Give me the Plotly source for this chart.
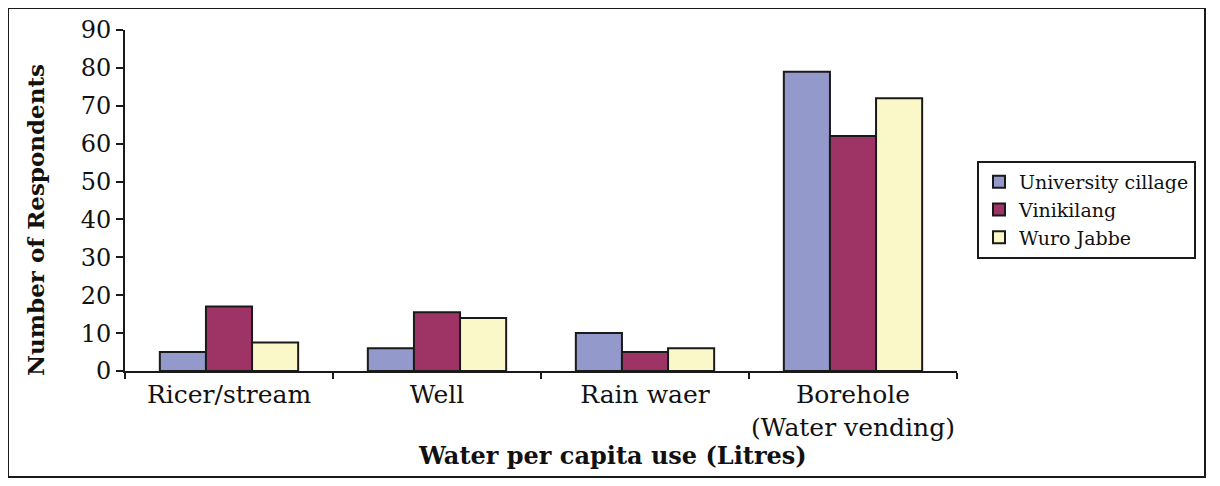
import plotly.graph_objects as go

# data
categories = ["Ricer/stream", "Well", "Rain waer", "Borehole<br>(Water vending)"]
university_cillage = [5, 6, 10, 79]
vinikilang = [17, 15.5, 5, 62]
wuro_jabbe = [7.5, 14, 6, 72]
y_ticks = [0, 10, 20, 30, 40, 50, 60, 70, 80, 90]

series = [
    ("University cillage", university_cillage, "#9499cc"),
    ("Vinikilang", vinikilang, "#9e3366"),
    ("Wuro Jabbe", wuro_jabbe, "#faf7c8"),
]

SERIF = "DejaVu Serif, Liberation Serif, serif"

fig = go.Figure()
for name, vals, col in series:
    fig.add_trace(go.Bar(
        name=name, x=categories, y=vals,
        marker=dict(color=col, line=dict(color="#1a1a1a", width=2)),
    ))

# page body has an 8px margin, so the figure is placed at (8, 8)
OFF = 8
W, H = 1220 - 2 * OFF, 486 - 2 * OFF
# plot area in screen px: x 125..957, y 30..371
L, R, T, B = 125 - OFF, 957 - OFF, 30 - OFF, 371 - OFF
pw, ph = R - L, B - T

def px_x(v):
    return (v - OFF - L) / pw

def px_y(v):
    return (B - (v - OFF)) / ph

fig.update_layout(
    width=W, height=H,
    margin=dict(l=L, r=W - R, t=T, b=H - B, autoexpand=False),
    paper_bgcolor="white", plot_bgcolor="white",
    barmode="group", bargap=0.335, bargroupgap=0,
    font=dict(family=SERIF, color="#111111"),
    showlegend=True,
    legend=dict(
        x=px_x(977), y=px_y(161), xanchor="left", yanchor="top",
        bgcolor="white", bordercolor="#1a1a1a", borderwidth=2,
        font=dict(family=SERIF, size=19, color="#111111"),
        tracegroupgap=0, itemwidth=30,
    ),
)

fig.update_xaxes(
    showline=True, linecolor="#1a1a1a", linewidth=2,
    ticks="outside", tickson="boundaries", ticklen=6, tickwidth=2, tickcolor="#1a1a1a",
    tickfont=dict(family=SERIF, size=25, color="#111111"), tickangle=0,
    showgrid=False, zeroline=False,
)
fig.update_yaxes(
    range=[0, 90], tickvals=y_ticks,
    showline=True, linecolor="#1a1a1a", linewidth=2,
    ticks="outside", ticklen=7, tickwidth=2, tickcolor="#1a1a1a",
    tickfont=dict(family=SERIF, size=24, color="#111111"),
    showgrid=False, zeroline=False,
)

# axis titles as annotations
fig.add_annotation(
    text="<b>Water per capita use (Litres)</b>", xref="paper", yref="paper",
    x=px_x(612), y=px_y(455), xanchor="center", yanchor="middle", showarrow=False,
    font=dict(family=SERIF, size=24, color="#111111"),
)
fig.add_annotation(
    text="<b>Number of Respondents</b>", xref="paper", yref="paper",
    x=px_x(36), y=px_y(220), xanchor="center", yanchor="middle",
    showarrow=False, textangle=-90,
    font=dict(family=SERIF, size=23, color="#111111"),
)

# outer frame
fig.add_shape(
    type="rect", xref="paper", yref="paper",
    x0=px_x(8), x1=px_x(1205), y0=px_y(477), y1=px_y(8),
    line=dict(color="#1a1a1a", width=2), layer="below",
)

fig.write_html("out.html")
